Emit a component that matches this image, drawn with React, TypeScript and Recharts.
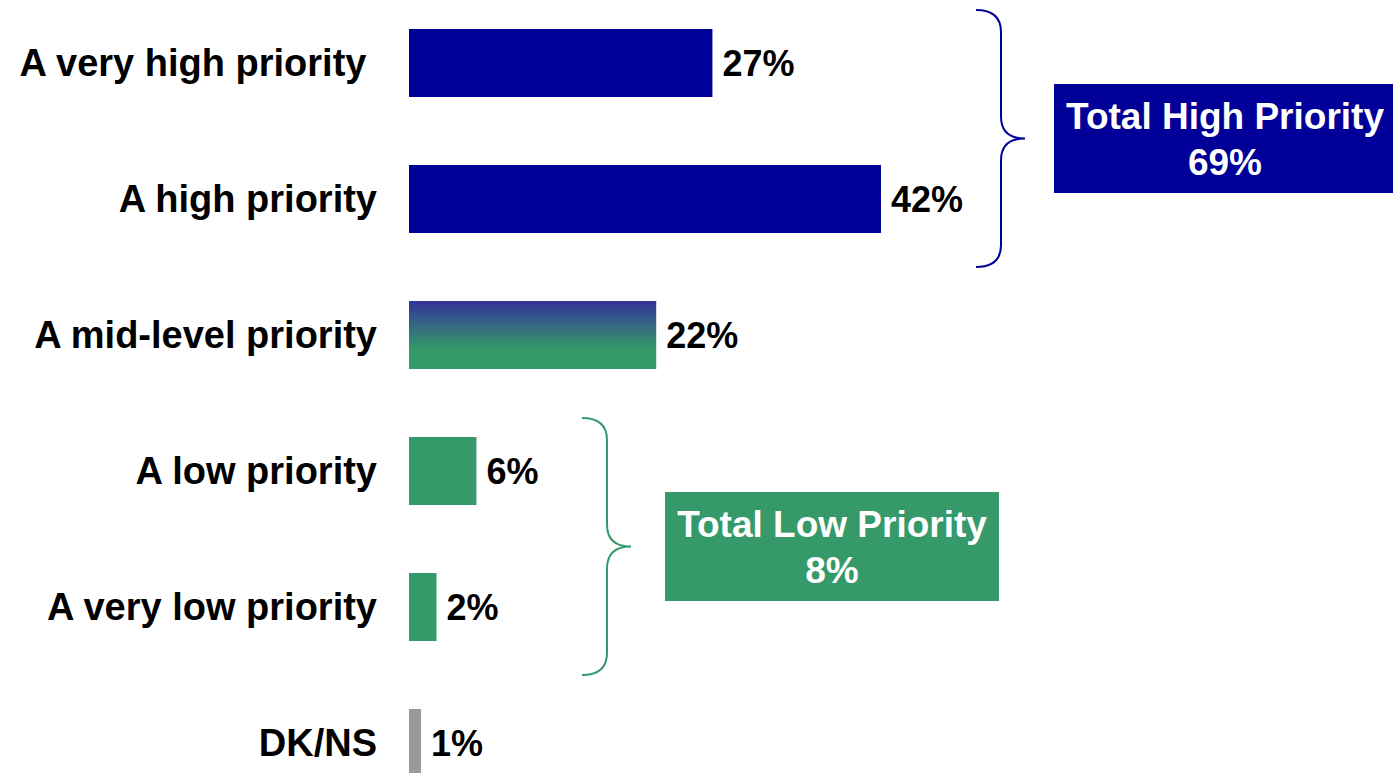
import { BarChart, Bar, XAxis, YAxis, Cell, LabelList } from "recharts";

const categories = [
  "A very high priority\u00A0",
  "A high priority",
  "A mid-level priority",
  "A low priority",
  "A very low priority",
  "DK/NS",
];
const values = [27, 42, 22, 6, 2.45, 1.07];

const totalLabels = ["Total High Priority", "Total Low Priority"];
const totalValues = [69, 8];
// which rows each total groups together
const totalRows = [
  [0, 1],
  [3, 4],
];

const data = categories.map((name, i) => ({ name, value: values[i] }));

const FONT = "'Liberation Sans', Arial, Helvetica, sans-serif";
const NAVY = "#000099";
const GREEN = "#36996a";
const GREY = "#999999";
const barFills = [NAVY, NAVY, "url(#midGrad)", GREEN, GREEN, GREY];

const W = 1393;
const H = 773;
const CHART_H = 816;
const TOP = -5;
const BAND = CHART_H / categories.length;

// brace + box placement for each total group
const totalStyle = [
  { color: NAVY, braceX: 976, box: [1054, 342] },
  { color: GREEN, braceX: 582, box: [665, 334] },
];

function Brace({ x, top, bottom, color }: { x: number; top: number; bottom: number; color: string }) {
  const xv = x + 25;
  const tip = x + 49;
  const mid = (top + bottom) / 2;
  const r = 22;
  const d = [
    `M ${x} ${top}`,
    `Q ${xv} ${top} ${xv} ${top + r}`,
    `L ${xv} ${mid - r}`,
    `Q ${xv} ${mid} ${tip} ${mid}`,
    `Q ${xv} ${mid} ${xv} ${mid + r}`,
    `L ${xv} ${bottom - r}`,
    `Q ${xv} ${bottom} ${x} ${bottom}`,
  ].join(" ");
  return <path d={d} fill="none" stroke={color} strokeWidth={2} />;
}

function Totals() {
  return (
    <svg width={W} height={H} style={{ position: "absolute", left: 0, top: 0, pointerEvents: "none" }}>
      {totalRows.map(([a, b], i) => {
        const top = TOP + a * BAND + 15;
        const bottom = TOP + (b + 1) * BAND;
        const mid = (top + bottom) / 2;
        const s = totalStyle[i];
        const [bx, bw] = s.box;
        return (
          <g key={i}>
            <Brace x={s.braceX} top={top} bottom={bottom} color={s.color} />
            <rect x={bx} y={mid - 54.5} width={bw} height={109} fill={s.color} />
            <text
              x={bx + bw / 2}
              textAnchor="middle"
              fill="#fff"
              fontFamily={FONT}
              fontWeight={700}
              fontSize={37}
            >
              <tspan x={bx + bw / 2} y={mid - 9.5}>{totalLabels[i]}</tspan>
              <tspan x={bx + bw / 2} y={mid + 36.5}>{`${totalValues[i]}%`}</tspan>
            </text>
          </g>
        );
      })}
    </svg>
  );
}

export default function App() {
  return (
    <div style={{ position: "relative", width: W, height: H, overflow: "hidden", background: "#fff" }}>
      <style>{`body{margin:0}`}</style>
      <div style={{ position: "absolute", left: 0, top: TOP }}>
        <BarChart
          width={W}
          height={CHART_H}
          data={data}
          layout="vertical"
          margin={{ top: 0, right: 85, bottom: 0, left: 0 }}
          barCategoryGap="25%"
        >
          <defs>
            <linearGradient id="midGrad" x1="0" y1="0" x2="0" y2="1">
              <stop offset="0%" stopColor="#333399" />
              <stop offset="70%" stopColor={GREEN} />
              <stop offset="100%" stopColor={GREEN} />
            </linearGradient>
          </defs>
          <XAxis type="number" domain={[0, 80]} hide />
          <YAxis
            type="category"
            dataKey="name"
            width={409}
            interval={0}
            axisLine={false}
            tickLine={false}
            tickSize={0}
            tickMargin={32}
            tick={{ fill: "#000", fontSize: 38, fontWeight: 700, fontFamily: FONT }}
          />
          <Bar dataKey="value" isAnimationActive={false}>
            {data.map((_, i) => (
              <Cell key={i} fill={barFills[i]} />
            ))}
            <LabelList
              dataKey="value"
              position="right"
              offset={10}
              formatter={(v: any) => `${Math.round(Number(v))}%`}
              style={{ fill: "#000", fontSize: 36, fontWeight: 700, fontFamily: FONT }}
            />
          </Bar>
        </BarChart>
      </div>
      <Totals />
    </div>
  );
}
